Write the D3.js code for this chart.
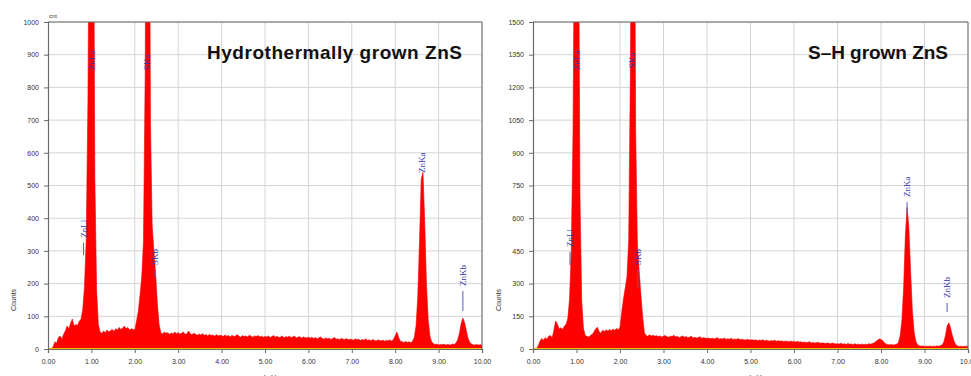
<!DOCTYPE html>
<html>
  <head>
    <meta charset="utf-8">
    <script src="https://cdn.jsdelivr.net/npm/d3@7"></script>
    <style>
      body { margin: 0; background: #ffffff; }
      svg { display: block; }
    </style>
  </head>
  <body>
    <script>

      // energy axis, one sample every 0.04 keV from 0 to 10 keV
      var stepKeV = 0.04;

      // counts (hydrothermal ZnS)
      var hydroCounts = [
        0, 0, 0, 8, 22, 18, 35, 40, 30, 45,
        55, 70, 62, 78, 92, 70, 75, 72, 85, 90,
        120, 190, 330, 760, 1600, 2600, 1700, 520, 180, 75,
        52, 48, 55, 50, 58, 52, 56, 60, 54, 62,
        58, 66, 60, 64, 70, 62, 66, 58, 62, 60,
        58, 85, 115, 165, 220, 330, 850, 2300, 2100, 700,
        380, 300, 230, 140, 75, 50, 46, 52, 48, 50,
        45, 49, 46, 52, 47, 50, 46, 48, 52, 45,
        47, 55, 46, 44, 48, 45, 42, 46, 43, 47,
        42, 44, 40, 45, 41, 43, 39, 44, 40, 42,
        41, 38, 43, 39, 41, 37, 42, 38, 40, 44,
        39, 36, 41, 38, 40, 37, 42, 39, 36, 40,
        38, 41, 37, 39, 36, 38, 37, 40, 35, 38,
        41, 36, 39, 35, 37, 40, 34, 38, 36, 39,
        35, 37, 40, 34, 36, 38, 33, 37, 35, 34,
        36, 33, 36, 32, 35, 31, 34, 37, 32, 30,
        34, 31, 33, 29, 32, 35, 30, 31, 28, 33,
        30, 29, 32, 28, 30, 29, 27, 31, 28, 30,
        26, 29, 27, 31, 26, 28, 25, 29, 27, 24,
        28, 26, 25, 27, 24, 26, 25, 28, 24, 30,
        40, 52, 35, 24, 22, 20, 23, 20, 22, 19,
        24, 35, 70, 160, 330, 520, 540, 390, 200, 90,
        40, 22, 16, 14, 15, 12, 14, 13, 15, 12,
        14, 13, 12, 15, 14, 18, 28, 48, 78, 95,
        80, 55, 32, 20, 15, 13, 12, 14, 12, 13,
        12
      ];

      // counts (S-H grown ZnS)
      var shCounts = [
        0, 0, 0, 15, 35, 48, 40, 52, 45, 58,
        62, 50, 85, 128, 115, 92, 98, 90, 105, 112,
        140, 230, 450, 1000, 2200, 3400, 2300, 700, 220, 95,
        62, 58, 55, 62, 66, 78, 92, 100, 80, 72,
        86, 80, 88, 82, 90, 84, 92, 86, 94, 88,
        100, 170, 230, 280, 330, 500, 1300, 3200, 2800, 1000,
        480, 360, 250, 150, 75, 62, 58, 65, 60, 63,
        58, 61, 57, 60, 55, 58, 62, 56, 54, 59,
        57, 63, 55, 58, 52, 56, 60, 54, 57, 52,
        55, 58, 51, 54, 50, 53, 56, 49, 52, 50,
        48, 51, 47, 50, 46, 49, 52, 45, 48, 46,
        50, 44, 47, 45, 49, 43, 46, 44, 48, 42,
        45, 43, 41, 44, 42, 41, 43, 40, 42, 38,
        41, 39, 42, 37, 40, 38, 36, 39, 37, 40,
        35, 38, 36, 37, 34, 36, 35, 33, 36, 34,
        34, 32, 35, 31, 33, 30, 32, 29, 31, 33,
        28, 30, 27, 29, 31, 26, 28, 27, 25, 28,
        26, 24, 27, 25, 23, 24, 23, 26, 22, 24,
        21, 25, 22, 23, 20, 24, 21, 22, 20, 23,
        21, 22, 20, 24, 22, 25, 28, 34, 40, 46,
        44, 38, 28, 22, 20, 19, 21, 18, 20, 22,
        30, 60, 130, 280, 520, 650, 560, 360, 180, 80,
        35, 20, 15, 13, 14, 12, 13, 11, 14, 12,
        13, 12, 14, 13, 15, 18, 30, 60, 105, 120,
        95, 62, 35, 20, 14, 12, 13, 11, 12, 13,
        12
      ];

      // tick values
      var keVTicks = [0, 1, 2, 3, 4, 5, 6, 7, 8, 9, 10];
      var hydroCountTicks = [0, 100, 200, 300, 400, 500, 600, 700, 800, 900, 1000];
      var shCountTicks = [0, 150, 300, 450, 600, 750, 900, 1050, 1200, 1350, 1500];

      // peak labels: name, keV, count at bottom of text, count at bottom of marker line (null = no line)
      var hydroPeaks = [
        ["ZnLa", 1.01, 853, null],
        ["SKa", 2.29, 853, null],
        ["ZnLl", 0.82, 340, 287],
        ["SKb", 2.47, 257, 217],
        ["ZnKa", 8.62, 538, null],
        ["ZnKb", 9.56, 193, 116]
      ];
      var shPeaks = [
        ["ZnLa", 1.01, 1280, null],
        ["SKa", 2.28, 1289, null],
        ["ZnLl", 0.85, 468, 385],
        ["SKb", 2.41, 385, 280],
        ["ZnKa", 8.60, 697, 615],
        ["ZnKb", 9.52, 234, 170]
      ];

      var width = 971;
      var height = 376;

      var svg = d3.select("body")
                  .append("svg")
                  .attr("width", width)
                  .attr("height", height);

      // draws one EDS spectrum panel
      function drawPanel(counts, countTicks, peaks, title, box, showUnit) {
        var xScale = d3.scaleLinear()
                       .domain([0, 10])
                       .range([box.left, box.right]);
        var yScale = d3.scaleLinear()
                       .domain([0, countTicks[countTicks.length - 1]])
                       .range([box.bottom, box.top]);

        var g = svg.append("g");

        // grid lines
        g.selectAll(".vgrid")
         .data(keVTicks.slice(1))
         .enter()
         .append("line")
         .attr("x1", function(d) { return xScale(d); })
         .attr("x2", function(d) { return xScale(d); })
         .attr("y1", box.top)
         .attr("y2", box.bottom)
         .attr("stroke", "#d4d4d4")
         .attr("stroke-width", 1);
        g.selectAll(".hgrid")
         .data(countTicks.slice(1))
         .enter()
         .append("line")
         .attr("x1", box.left)
         .attr("x2", box.right)
         .attr("y1", function(d) { return yScale(d); })
         .attr("y2", function(d) { return yScale(d); })
         .attr("stroke", "#d4d4d4")
         .attr("stroke-width", 1);

        // clip so the big peaks stop at the top of the frame
        var clipId = "clip" + Math.round(box.left);
        svg.append("clipPath")
           .attr("id", clipId)
           .append("rect")
           .attr("x", box.left)
           .attr("y", box.top)
           .attr("width", box.right - box.left)
           .attr("height", box.bottom - box.top);

        var area = d3.area()
                     .x(function(d, i) { return xScale(i * stepKeV); })
                     .y0(yScale(0))
                     .y1(function(d) { return yScale(d); });

        g.append("path")
         .datum(counts)
         .attr("clip-path", "url(#" + clipId + ")")
         .attr("fill", "#ff0000")
         .attr("stroke", "#f00000")
         .attr("stroke-width", 0.6)
         .attr("d", area);

        // thin yellow baseline
        g.append("line")
         .attr("x1", box.left)
         .attr("x2", box.right)
         .attr("y1", box.bottom - 0.5)
         .attr("y2", box.bottom - 0.5)
         .attr("stroke", "#f2c200")
         .attr("stroke-width", 1);

        // frame top and right
        g.append("line")
         .attr("x1", box.left).attr("x2", box.right)
         .attr("y1", box.top).attr("y2", box.top)
         .attr("stroke", "#6a6a6a");
        g.append("line")
         .attr("x1", box.right).attr("x2", box.right)
         .attr("y1", box.top).attr("y2", box.bottom)
         .attr("stroke", "#6a6a6a");

        // axes
        var xAxis = d3.axisBottom(xScale)
                      .tickValues(keVTicks)
                      .tickFormat(d3.format(".2f"))
                      .tickSize(4)
                      .tickPadding(6);
        var yAxis = d3.axisLeft(yScale)
                      .tickValues(countTicks)
                      .tickFormat(d3.format("d"))
                      .tickSize(4)
                      .tickPadding(5);

        var gx = g.append("g")
                  .attr("transform", "translate(0," + box.bottom + ")")
                  .call(xAxis);
        var gy = g.append("g")
                  .attr("transform", "translate(" + box.left + ",0)")
                  .call(yAxis);
        [gx, gy].forEach(function(ax) {
          ax.select(".domain").attr("stroke", "#6a6a6a").attr("stroke-width", 1.2);
          ax.selectAll(".tick line").attr("stroke", "#6a6a6a");
          ax.selectAll(".tick text")
            .attr("fill", "#333333")
            .style("font-family", "Liberation Sans, Arial, sans-serif")
            .style("font-size", "7px");
        });

        // peak labels
        peaks.forEach(function(p) {
          var px = xScale(p[1]);
          g.append("text")
           .attr("transform", "translate(" + (px + 3) + "," + yScale(p[2]) + ") rotate(-90)")
           .attr("fill", "#3434a8")
           .style("font-family", "Liberation Serif, Times New Roman, serif")
           .style("font-size", "9px")
           .text(p[0]);
          if (p[3] !== null) {
            g.append("line")
             .attr("x1", px).attr("x2", px)
             .attr("y1", yScale(p[2]) + 5)
             .attr("y2", yScale(p[3]))
             .attr("stroke", "#5a5ac0")
             .attr("stroke-width", 1);
          }
        });

        // axis titles
        g.append("text")
         .attr("transform", "translate(" + (box.left - 32) + "," + (box.top + 278) + ") rotate(-90)")
         .attr("text-anchor", "middle")
         .attr("fill", "#333333")
         .style("font-family", "Liberation Sans, Arial, sans-serif")
         .style("font-size", "7px")
         .text("Counts");
        g.append("text")
         .attr("x", (box.left + box.right) / 2 + 5)
         .attr("y", box.bottom + 31)
         .attr("text-anchor", "middle")
         .attr("fill", "#333333")
         .style("font-family", "Liberation Sans, Arial, sans-serif")
         .style("font-size", "7px")
         .text("keV");
        if (showUnit) {
          g.append("text")
           .attr("x", box.left + 1)
           .attr("y", box.top - 4)
           .attr("fill", "#333333")
           .style("font-family", "Liberation Sans, Arial, sans-serif")
           .style("font-size", "6px")
           .text("cnt");
        }

        // big title inside the plot
        g.append("text")
         .attr("x", title.x)
         .attr("y", title.y)
         .attr("textLength", title.w)
         .attr("fill", "#111111")
         .style("font-family", "Liberation Sans, Arial, sans-serif")
         .style("font-weight", "bold")
         .style("font-size", "19px")
         .text(title.text);
      }

      drawPanel(hydroCounts, hydroCountTicks, hydroPeaks,
                {text: "Hydrothermally grown ZnS", x: 207, y: 59, w: 255},
                {left: 48, right: 482, top: 22, bottom: 349}, true);
      drawPanel(shCounts, shCountTicks, shPeaks,
                {text: "S\u2013H grown ZnS", x: 808, y: 59, w: 140},
                {left: 533, right: 968, top: 22, bottom: 349}, false);
    </script>
  </body>
</html>
